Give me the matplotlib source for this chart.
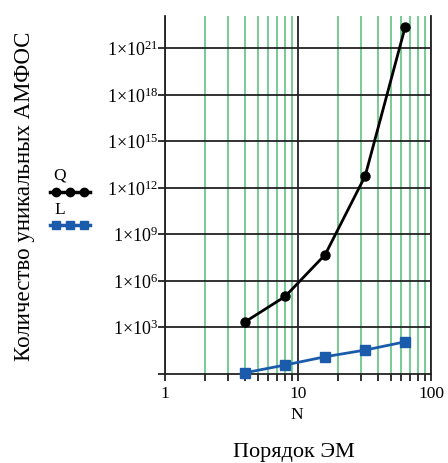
import matplotlib
matplotlib.use('Agg')
import matplotlib.pyplot as plt
from matplotlib.lines import Line2D
from matplotlib.ticker import FixedLocator, NullFormatter, NullLocator

plt.rcParams['font.family'] = ['Liberation Serif', 'DejaVu Serif']
plt.rcParams['mathtext.fontset'] = 'custom'
plt.rcParams['mathtext.rm'] = 'Liberation Serif'
plt.rcParams['mathtext.it'] = 'Liberation Serif:italic'

# data
N = [4, 8, 16, 32, 64]
Q = [2.3e3, 1.0e5, 5.0e7, 6.0e12, 2.5e22]
L = [1.2, 3.8, 13, 35, 120]
xtick_vals = [1, 10, 100]
xtick_labels = ['1', '10', '100']
ytick_exps = [3, 6, 9, 12, 15, 18, 21]
ytick_vals = [10.0 ** e for e in ytick_exps]
ytick_labels = ['1×10$^{%d}$' % e for e in ytick_exps]
x_minor = [k * d for d in (1, 10) for k in range(2, 10)]

BLUE = '#1a5cab'
GREEN = '#6cc98a'

W, H = 448, 463
fig = plt.figure(figsize=(W / 100, H / 100), dpi=100)
ax = fig.add_axes([165 / W, 1 - 374 / H, (431 - 165) / W, (374 - 15.7) / H])
ax.set_xscale('log')
ax.set_yscale('log')
ax.set_xlim(1, 100)
ax.set_ylim(1, 1.3e23)

# grid lines
for xv in x_minor:
    ax.axvline(xv, color=GREEN, lw=1.3, zorder=1)
for xv in xtick_vals:
    ax.axvline(xv, color='#222222', lw=1.3, zorder=1.5)
for yv in ytick_vals:
    ax.axhline(yv, color='#222222', lw=1.3, zorder=1.5)

ax.plot(N, Q, color='black', lw=2, marker='o', ms=6.5, zorder=3, clip_on=False)
ax.plot(N, L, color=BLUE, lw=2, marker='s', ms=6.5, zorder=3, clip_on=False)

ax.xaxis.set_major_locator(FixedLocator(xtick_vals))
ax.set_xticklabels(xtick_labels, fontsize=12.5)
ax.xaxis.set_minor_locator(FixedLocator(x_minor))
ax.xaxis.set_minor_formatter(NullFormatter())
ax.yaxis.set_major_locator(FixedLocator([1.0] + ytick_vals))
ax.set_yticklabels([''] + ytick_labels, fontsize=13)
ax.yaxis.set_minor_locator(NullLocator())
ax.tick_params(axis='x', which='both', direction='out', length=5, width=1.3,
               color='#222222', pad=4)
ax.tick_params(axis='y', which='major', direction='out', length=5, width=1.3,
               color='#222222', pad=0)
ax.spines['top'].set_visible(False)
for s in ('left', 'right', 'bottom'):
    ax.spines[s].set_color('#222222')
    ax.spines[s].set_linewidth(1.3)

# axis titles
fig.text(297 / W, 1 - 415 / H, 'N', ha='center', va='center', fontsize=12.5)
fig.text(294 / W, 1 - 452 / H, 'Порядок ЭМ', ha='center', va='center', fontsize=16)
fig.text(25 / W, 1 - 196 / H, 'Количество уникальных АМФОС', rotation=90,
         ha='center', va='center', fontsize=16.5)

# legend
fig.text(60 / W, 1 - 175 / H, 'Q', ha='center', va='center', fontsize=12.5)
fig.text(60 / W, 1 - 210 / H, 'L', ha='center', va='center', fontsize=12.5)
lx = [50 / W, 56 / W, 70 / W, 84 / W, 90 / W]
fig.add_artist(Line2D(lx, [1 - 192 / H] * 5, transform=fig.transFigure,
                      color='black', lw=2.5, marker='o', ms=6, markevery=[1, 2, 3]))
fig.add_artist(Line2D(lx, [1 - 225 / H] * 5, transform=fig.transFigure,
                      color=BLUE, lw=2.5, marker='s', ms=6, markevery=[1, 2, 3]))

fig.savefig('out.png', dpi=100)
